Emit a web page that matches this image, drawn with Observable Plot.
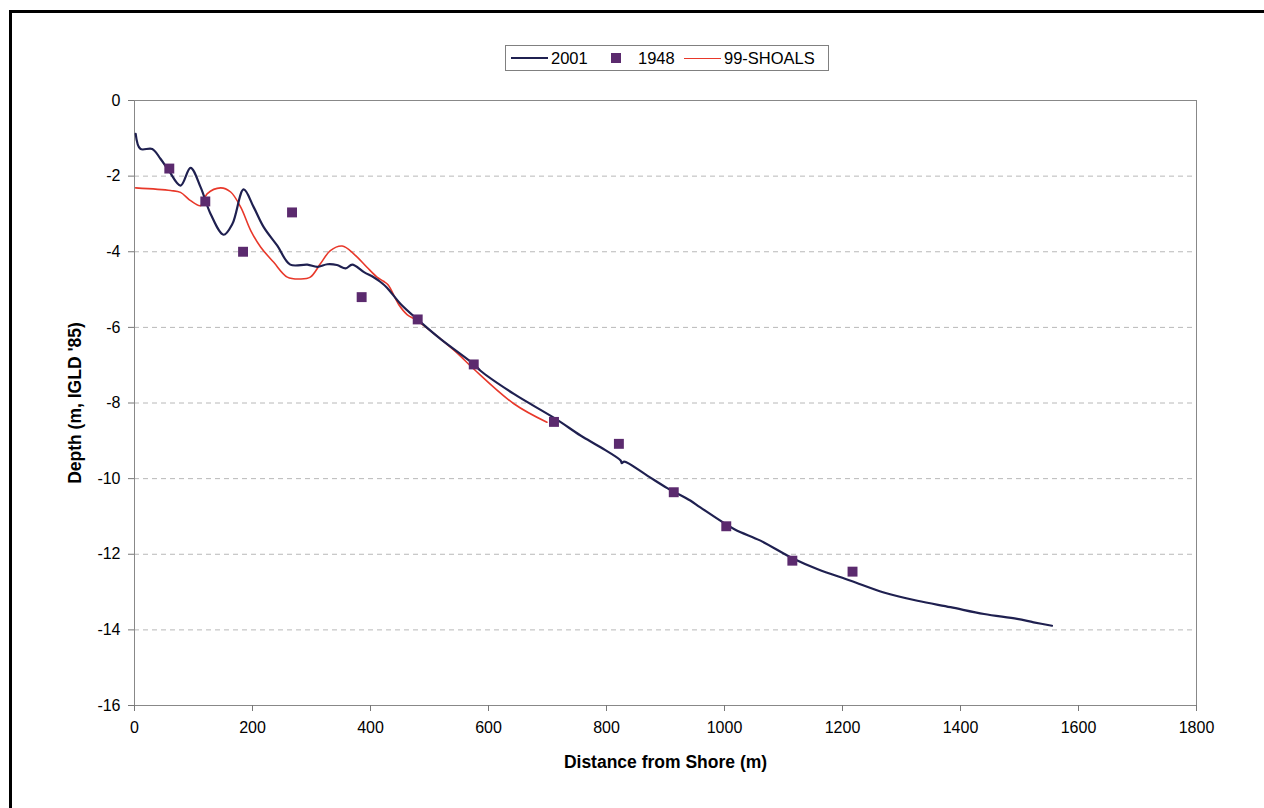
<!DOCTYPE html>
<html><head><meta charset="utf-8">
<script src="https://cdn.jsdelivr.net/npm/d3@7"></script>
<script src="https://cdn.jsdelivr.net/npm/@observablehq/plot@0.6"></script>
<style>
body{margin:0;background:#fff;font-family:"Liberation Sans",Arial,sans-serif;}
#wrap{position:relative;width:1264px;height:808px;overflow:hidden;background:#fff;}
#clip{position:absolute;left:0;top:0;width:1264px;height:808px;overflow:hidden;}
#clip svg{max-width:none !important;width:1264px;height:808px;display:block;}
#border{position:absolute;left:9px;top:10px;width:1300px;height:900px;border-left:3.5px solid #000;border-top:3.5px solid #000;pointer-events:none;}
#legend{position:absolute;left:505px;top:45px;width:322px;height:24px;border:1px solid #808080;background:#fff;font-size:16.5px;color:#000;}
#legend .ln{position:absolute;top:12px;height:0;}
#legend .tx{position:absolute;top:3px;line-height:18px;}
#legend .sq{position:absolute;width:10px;height:10px;top:7px;}
[aria-label="x-axis label"] text,[aria-label="y-axis label"] text{font-weight:bold;font-size:17.5px;}
</style></head>
<body>
<div id="wrap">
  <div id="clip"></div>
  <div id="legend">
    <div class="ln" style="left:5px;width:37px;border-top:2px solid #1f2050;top:11px"></div>
    <div class="tx" style="left:45px">2001</div>
    <div class="sq" style="left:105px;background:#5b2a6e"></div>
    <div class="tx" style="left:132px">1948</div>
    <div class="ln" style="left:178px;width:37px;border-top:1.5px solid #e8382a"></div>
    <div class="tx" style="left:218px">99-SHOALS</div>
  </div>
  <div id="border"></div>
</div>
<script>
// 2001 survey profile
const s2001X = [2,10,30,44,58,78,95,112,129,151,166,185,202,219,242,264,293,310,327,343,358,369,389,406,417,428,451,482,519,578,586,643,714,756,790,824,826,830,869,903,942,959,1016,1061,1117,1157,1214,1270,1327,1383,1440,1496,1524,1555];
const s2001Y = [-0.88,-1.28,-1.28,-1.54,-1.85,-2.25,-1.78,-2.29,-3.0,-3.55,-3.26,-2.35,-2.82,-3.35,-3.84,-4.34,-4.34,-4.40,-4.33,-4.35,-4.44,-4.34,-4.54,-4.68,-4.80,-4.95,-5.38,-5.82,-6.31,-7.01,-7.14,-7.76,-8.42,-8.86,-9.17,-9.52,-9.59,-9.55,-9.92,-10.25,-10.58,-10.76,-11.33,-11.64,-12.12,-12.39,-12.70,-13.01,-13.23,-13.40,-13.58,-13.71,-13.80,-13.89];
// 1948 survey points
const s1948X = [59,120,184,267,385,480,575,711,821,914,1003,1115,1217];
const s1948Y = [-1.8,-2.67,-4.0,-2.96,-5.2,-5.79,-6.98,-8.5,-9.08,-10.36,-11.26,-12.17,-12.46];
// 99-SHOALS profile
const shoalsX = [2,61,78,95,112,123,146,163,180,197,214,236,259,281,298,315,332,352,372,394,411,422,430,448,462,479,519,547,575,643,699];
const shoalsY = [-2.31,-2.38,-2.43,-2.65,-2.78,-2.47,-2.31,-2.42,-2.82,-3.44,-3.88,-4.28,-4.67,-4.72,-4.67,-4.32,-3.97,-3.85,-4.06,-4.41,-4.67,-4.78,-4.88,-5.40,-5.66,-5.82,-6.31,-6.68,-7.1,-8.02,-8.51];
const xTicks = [0,200,400,600,800,1000,1200,1400,1600,1800];
const yTicks = [0,-2,-4,-6,-8,-10,-12,-14,-16];
const gridTicks = [-2,-4,-6,-8,-10,-12,-14];

const d2001 = s2001X.map((x,i)=>({x, y:s2001Y[i]}));
const d1948 = s1948X.map((x,i)=>({x, y:s1948Y[i]}));
const dShoals = shoalsX.map((x,i)=>({x, y:shoalsY[i]}));

const chart = Plot.plot({
  width:1264, height:808,
  marginLeft:134, marginRight:68, marginTop:100, marginBottom:103,
  style:{fontFamily:"'Liberation Sans', Arial, sans-serif", fontSize:"16px", color:"#000", background:"transparent"},
  x:{domain:[0,1800]},
  y:{domain:[-16,0]},
  marks:[
    Plot.gridY(gridTicks, {stroke:"#b8b8b8", strokeOpacity:1, strokeDasharray:"5,4"}),
    Plot.frame({stroke:"#888"}),
    Plot.axisX({ticks:xTicks, tickSize:6, tickPadding:10, stroke:"#777", tickFormat:d=>String(d),
      label:"Distance from Shore (m)", labelAnchor:"center", labelArrow:"none", labelOffset:62}),
    Plot.axisY({ticks:yTicks, tickSize:6, tickPadding:8, stroke:"#777", tickFormat:d=>String(d).replace("−","-"),
      label:"Depth (m, IGLD '85)", labelAnchor:"center", labelArrow:"none", labelOffset:66}),
    Plot.line(dShoals, {x:"x", y:"y", stroke:"#e8382a", strokeWidth:1.6, curve:"catmull-rom"}),
    Plot.line(d2001, {x:"x", y:"y", stroke:"#1f2050", strokeWidth:2.2, curve:"catmull-rom"}),
    Plot.dot(d1948, {x:"x", y:"y", symbol:"square", r:5.6, fill:"#5b2a6e", stroke:"none"})
  ]
});
document.getElementById("clip").appendChild(chart);
</script>
</body></html>
